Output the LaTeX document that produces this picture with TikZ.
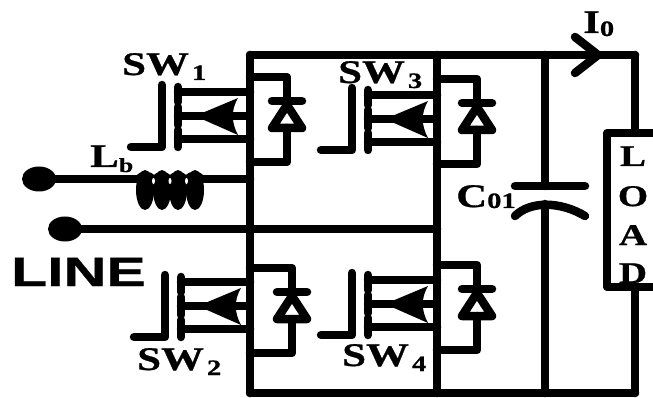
\documentclass[tikz,border=0pt]{standalone}
\usepackage{fontspec}
\usetikzlibrary{shapes.geometric}
\newfontfamily\labfont[FakeStretch=1.3,FakeBold=0.8]{Liberation Serif}
\newfontfamily\linefont[FakeStretch=1.44,FakeBold=0.8]{Liberation Sans}
\newcommand{\sublab}[1]{\kern3pt\raisebox{-5pt}{\fontsize{22}{22}\selectfont #1}}
\tikzset{
  wire/.style={line width=8.5pt,line cap=round,line join=round},
  terminal/.style={shape=ellipse,fill=black,minimum width=34pt,minimum height=25pt,inner sep=0pt,outer sep=0pt},
  lab/.style={anchor=base west,inner sep=0pt,font=\labfont\bfseries\fontsize{33}{33}\selectfont},
  loadlab/.style={anchor=base,inner sep=0pt,font=\labfont\bfseries\fontsize{30}{30}\selectfont},
  igbt/.pic={
    \draw [wire] (-47,55) -- (-16,55) -- (-16,-7);
    \draw [wire] (0,-5) -- (0,10);
    \draw [wire] (0,15) -- (0,33);
    \draw [wire] (0,38) -- (0,55);
    \fill (17,24) -- (60,6) .. controls (53,18) and (53,30) .. (60,43) -- cycle;
    \coordinate (-d) at (0,0);
    \coordinate (-b) at (0,24);
    \coordinate (-s) at (0,47);
  },
  fwd/.pic={
    \draw [wire] (-15,0) -- (15,0);
    \draw [wire] (0,4) -- (-15,27) -- (15,27) -- cycle;
    \coordinate (-t) at (0,-24);
    \coordinate (-k) at (0,0);
    \coordinate (-a) at (0,27);
    \coordinate (-e) at (0,61);
  }
}
\begin{document}
\begin{tikzpicture}[x=1pt,y=-1pt]
  \useasboundingbox (0,0) rectangle (653,398);
  % rails
  \coordinate (tl) at (250,55);
  \coordinate (tm) at (437,55);
  \coordinate (tc) at (545,55);
  \coordinate (tip) at (598,55);
  \coordinate (tr) at (635,55);
  \coordinate (bl) at (250,393);
  \coordinate (bm) at (437,393);
  \coordinate (bc) at (545,393);
  \coordinate (br) at (635,393);
  \draw [wire] (tl) -- (tr);
  \draw [wire] (bl) -- (br);
  \draw [wire] (tl) -- (bl);
  \draw [wire] (tm) -- (bm);
  % switches
  \pic (sw1) at (178,92) {igbt};
  \pic (sw2) at (181,282) {igbt};
  \pic (sw3) at (368,95) {igbt};
  \pic (sw4) at (368,280) {igbt};
  \foreach \s/\n in {sw1/tl,sw2/tl,sw3/tm,sw4/tm} {
    \draw [wire] (\s-d) -- (\s-d -| \n);
    \draw [wire] (\s-s) -- (\s-s -| \n);
    \draw [wire] (\s-b) -| (\s-s -| \n);
  }
  % diodes
  \pic (d1) at (287,101) {fwd};
  \pic (d2) at (292,292) {fwd};
  \pic (d3) at (477,103) {fwd};
  \pic (d4) at (477,289) {fwd};
  \foreach \d/\n in {d1/tl,d2/tl,d3/tm,d4/tm} {
    \draw [wire] (\d-k) -- (\d-t) -- (\d-t -| \n);
    \draw [wire] (\d-a) -- (\d-e) -- (\d-e -| \n);
  }
  % line side
  \node [terminal] (t1) at (39,179) {};
  \node [terminal] (t2) at (65,229) {};
  \draw [wire] (t1.center) -- (t1 -| tl);
  \draw [wire] (t2.center) -- (t2 -| tm);
  \foreach \x in {145,162,178,195}
    \fill (\x,190) ellipse [x radius=9,y radius=20];
  \draw [line width=5pt] (137,178) to [bend left=50] (154,178) to [bend left=50] (170,178)
    to [bend left=50] (186,178) to [bend left=50] (203,178);
  \foreach \x in {153.5,170,186.5}
    \fill [white] (\x,181) ellipse [x radius=1.5,y radius=3];
  % capacitor
  \coordinate (c1) at (545,186);
  \coordinate (c2) at (545,204);
  \draw [wire] (tc) -- (c1);
  \draw [wire] (515,186) -- (585,186);
  \draw [wire] (515,216) .. controls (530,201) and (560,201) .. (585,216);
  \draw [wire] (c2) -- (bc);
  % load
  \coordinate (l1) at (635,133);
  \coordinate (l2) at (635,287);
  \draw [wire] (tr) -- (l1);
  \draw [wire] (l2) -- (br);
  \draw [wire,line cap=butt] (653,133) -- (607,133) -- (607,287) -- (653,287);
  % current arrow
  \draw [wire] (575,37) -- (tip) -- (575,73);
  % labels
  \node [lab] (n1) at (122,75) {SW\sublab{1}};
  \node [lab] (n2) at (137,370) {SW\sublab{2}};
  \node [lab] (n3) at (338,83) {SW\sublab{3}};
  \node [lab] (n4) at (342,366) {SW\sublab{4}};
  \node [lab] (io) at (583,33) {I\raisebox{-3pt}{\fontsize{22}{22}\selectfont 0}};
  \node [lab] (lb) at (90,167) {L\raisebox{-5pt}{\fontsize{20}{20}\selectfont b}};
  \node [lab] (c01) at (456,207) {C\raisebox{-1pt}{\fontsize{22}{22}\selectfont 01}};
  \node [anchor=base west,inner sep=0pt,font=\linefont\bfseries\fontsize{41}{41}\selectfont] (line) at (11,286) {LINE};
  \node [loadlab] (la) at (633,166) {L};
  \node [loadlab] (lo) at (633,206) {O};
  \node [loadlab] (lc) at (633,245) {A};
  \node [loadlab] (ld) at (633,283) {D};
\end{tikzpicture}
\end{document}
